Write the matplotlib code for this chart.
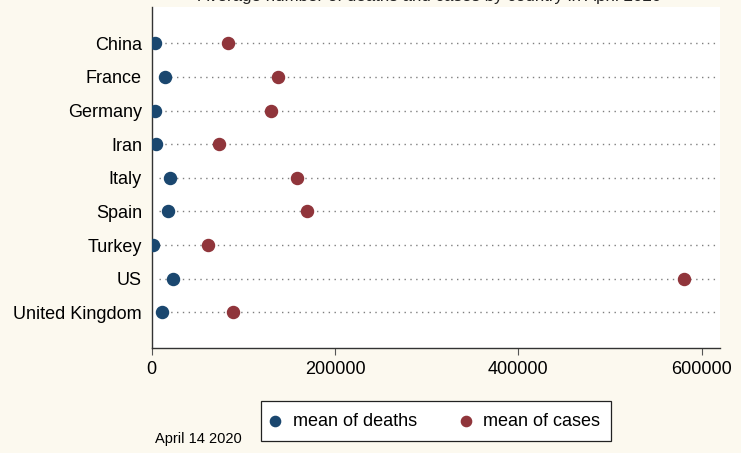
import matplotlib.pyplot as plt
import numpy as np

plt.rcParams['font.family'] = ['Liberation Sans', 'DejaVu Sans']

countries = ['China', 'France', 'Germany', 'Iran', 'Italy', 'Spain', 'Turkey', 'US', 'United Kingdom']
mean_deaths = [3300, 14500, 3300, 4400, 20300, 17800, 1100, 23200, 10900]
mean_cases = [82900, 137500, 129800, 73100, 158900, 169800, 61100, 580400, 89000]
xticks = [0, 200000, 400000, 600000]

bg = '#fcf9ef'
blue = '#1a476f'
red = '#90353b'

fig = plt.figure(figsize=(7.41, 4.53), dpi=100, facecolor=bg)
ax = fig.add_axes([0.2047, 0.2311, 0.767, 0.7534])
ax.set_facecolor('white')

pos = np.arange(len(countries))
for p in pos:
    ax.axhline(p, xmin=0.012, xmax=0.995, color='#7f7f7f', lw=1.0,
               linestyle=(0, (1, 3.2)), zorder=1)

ax.scatter(mean_deaths, pos, s=75, color=blue, zorder=3, label='mean of deaths')
ax.scatter(mean_cases, pos, s=75, color=red, zorder=3, label='mean of cases')

ax.set_xlim(0, 620000)
ax.set_ylim(len(countries) - 1 + 1.07, -1.08)
ax.set_yticks(pos)
ax.set_yticklabels(countries, fontsize=13)
ax.tick_params(axis='y', length=0, pad=7)
ax.set_xticks(xticks)
ax.set_xticklabels([str(v) for v in xticks], fontsize=13)
ax.tick_params(axis='x', length=5, width=0.8, color='#555555', pad=4)

for s in ['top', 'right']:
    ax.spines[s].set_visible(False)
for s in ['left', 'bottom']:
    ax.spines[s].set_color('#333333')
    ax.spines[s].set_linewidth(1.0)

leg = fig.legend(loc='center', bbox_to_anchor=(0.5887, 0.0706), ncol=2,
                 fontsize=13, frameon=True, fancybox=False, edgecolor='#222222',
                 framealpha=1, handletextpad=0.8, columnspacing=2.5,
                 borderpad=0.62, handlelength=0.35, markerscale=0.85)
leg.get_frame().set_linewidth(0.9)

fig.text(0.58, 1 - 1.5 / 453, 'Average number of deaths and cases by country in April 2020',
         ha='center', va='baseline', fontsize=12.2, color='#222222')
fig.text(0.209, 0.015, 'April 14 2020', fontsize=10.5, ha='left', va='bottom')

fig.savefig('out.png', dpi=100, facecolor=bg)
